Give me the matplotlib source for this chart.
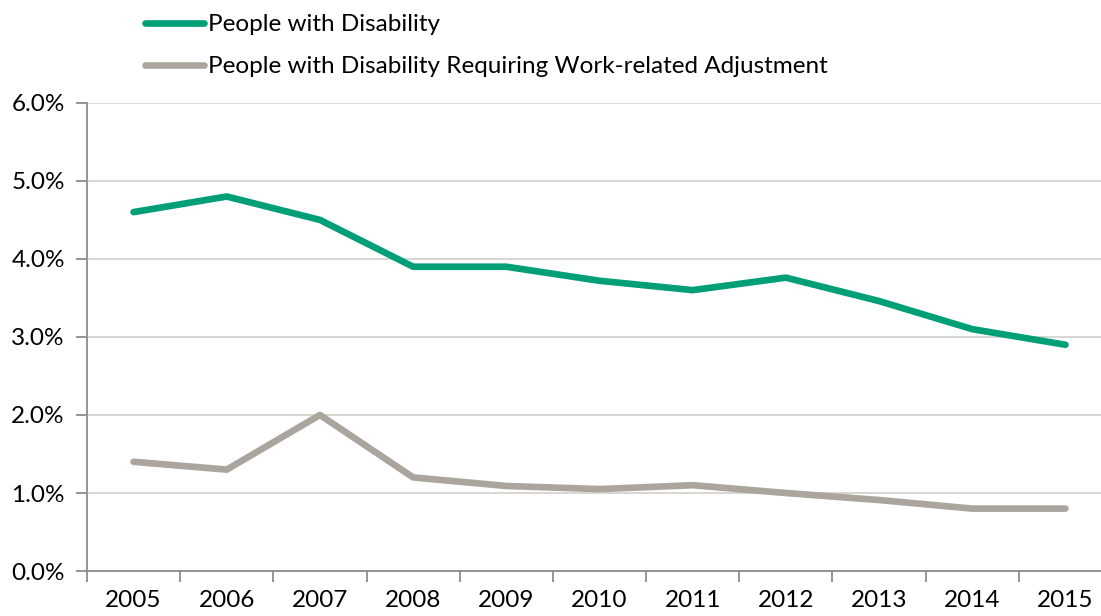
import matplotlib.pyplot as plt
import numpy as np
from matplotlib.ticker import FuncFormatter, FixedLocator

years = ["2005", "2006", "2007", "2008", "2009", "2010",
         "2011", "2012", "2013", "2014", "2015"]
disability = [4.6, 4.8, 4.5, 3.9, 3.9, 3.72, 3.6, 3.76, 3.46, 3.1, 2.9]
adjustment = [1.4, 1.3, 2.0, 1.2, 1.09, 1.05, 1.1, 1.0, 0.91, 0.8, 0.8]

plt.rcParams['font.family'] = ['Lato', 'DejaVu Sans']

fig = plt.figure(figsize=(11.01, 6.16), dpi=100)
ax = fig.add_axes([0.079, 0.073, 0.931, 0.760])

x = np.arange(len(years))
l1, = ax.plot(x, disability, color="#009f78", lw=4.8, solid_capstyle="round")
l2, = ax.plot(x, adjustment, color="#aba59e", lw=4.8, solid_capstyle="round")

ax.set_xlim(-0.5, len(years) - 0.5)
ax.set_ylim(0, 6)
ax.set_yticks(np.arange(0, 7, 1))
ax.yaxis.set_major_formatter(FuncFormatter(lambda v, p: "%.1f%%" % v))
ax.grid(axis="y", color="#d6d3ca", lw=1.3)
ax.set_axisbelow(True)

ax.set_xticks(x)
ax.set_xticklabels(years)
ax.xaxis.set_minor_locator(FixedLocator(np.arange(-0.5, len(years), 1)))
ax.tick_params(axis="x", which="major", length=0, pad=14, labelsize=17.5)
ax.tick_params(axis="x", which="minor", length=8, color="#8c8c8c", width=1.3)
ax.tick_params(axis="y", length=8, color="#8c8c8c", width=1.3, labelsize=17.5, pad=8)

for s in ["top", "right"]:
    ax.spines[s].set_visible(False)
for s in ["left", "bottom"]:
    ax.spines[s].set_color("#8c8c8c")
    ax.spines[s].set_linewidth(1.3)

fig.legend([l1, l2],
           ["People with Disability",
            "People with Disability Requiring Work-related Adjustment"],
           loc="upper left", bbox_to_anchor=(0.112, 1.012), frameon=False,
           fontsize=17.5, handlelength=2.4, handletextpad=0.2, labelspacing=0.85)

fig.savefig("out.png", dpi=100)
